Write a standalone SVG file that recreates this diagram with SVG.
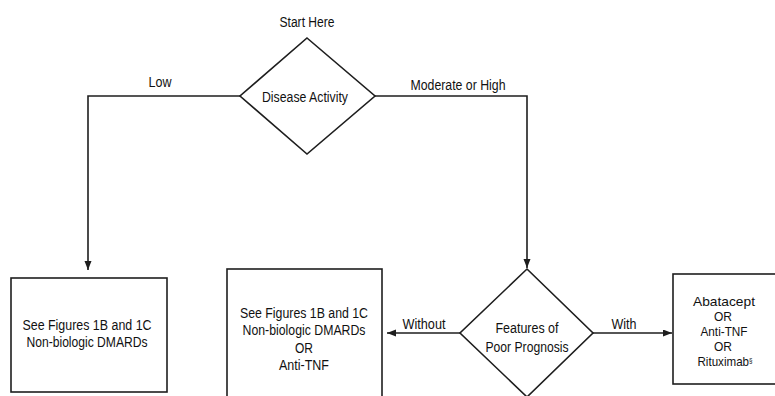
<svg xmlns="http://www.w3.org/2000/svg" width="775" height="396" viewBox="0 0 775 396">
  <style>
    .shape { fill: #ffffff; stroke: #1e1e1e; stroke-width: 1.6; }
    .link { fill: none; stroke: #1e1e1e; stroke-width: 1.6; }
    text { font-family: "Liberation Sans", Arial, sans-serif; font-size: 14px; fill: #111111; text-anchor: middle; }
    .tight { font-size: 13px; }
  </style>
  <defs>
    <marker id="arrow" markerUnits="userSpaceOnUse" markerWidth="10" markerHeight="8" refX="9" refY="3.5" orient="auto">
      <path d="M0,0 L9,3.5 L0,7 Z" fill="#1e1e1e"/>
    </marker>
  </defs>
  <rect width="775" height="396" fill="#ffffff"/>

  <g id="connectors">
    <polyline class="link" points="240,96 88,96 88,270" marker-end="url(#arrow)"/>
    <polyline class="link" points="375,96 527,96 527,268" marker-end="url(#arrow)"/>
    <line class="link" x1="460" y1="333" x2="387" y2="333" marker-end="url(#arrow)"/>
    <line class="link" x1="593" y1="333" x2="672" y2="333" marker-end="url(#arrow)"/>
    <text x="307" y="27" textLength="55" lengthAdjust="spacingAndGlyphs">Start Here</text>
    <text x="160" y="87" textLength="23" lengthAdjust="spacingAndGlyphs">Low</text>
    <text x="458" y="90" textLength="95" lengthAdjust="spacingAndGlyphs">Moderate or High</text>
    <text x="424" y="329" textLength="43" lengthAdjust="spacingAndGlyphs">Without</text>
    <text x="624" y="329" textLength="25" lengthAdjust="spacingAndGlyphs">With</text>
  </g>

  <g id="disease-activity">
    <polygon class="shape" points="307,38 375,96 307,154 240,96"/>
    <text x="305" y="102" textLength="86" lengthAdjust="spacingAndGlyphs">Disease Activity</text>
  </g>

  <g id="low-activity-therapy">
    <rect class="shape" x="11" y="278" width="156" height="114"/>
    <text x="87" y="330" textLength="129" lengthAdjust="spacingAndGlyphs">See Figures 1B and 1C</text>
    <text x="87" y="347" textLength="121" lengthAdjust="spacingAndGlyphs">Non-biologic DMARDs</text>
  </g>

  <g id="without-poor-prognosis-therapy">
    <rect class="shape" x="227" y="269" width="155" height="140"/>
    <text x="304" y="318" textLength="128" lengthAdjust="spacingAndGlyphs">See Figures 1B and 1C</text>
    <text x="304" y="335" textLength="123" lengthAdjust="spacingAndGlyphs">Non-biologic DMARDs</text>
    <text x="304" y="353" textLength="18" lengthAdjust="spacingAndGlyphs">OR</text>
    <text x="304" y="370" textLength="50" lengthAdjust="spacingAndGlyphs">Anti-TNF</text>
  </g>

  <g id="poor-prognosis">
    <polygon class="shape" points="527,269 593,333 527,397 460,333"/>
    <text x="527" y="333" textLength="63" lengthAdjust="spacingAndGlyphs">Features of</text>
    <text x="527" y="352" textLength="83" lengthAdjust="spacingAndGlyphs">Poor Prognosis</text>
  </g>

  <g id="with-poor-prognosis-therapy">
    <rect class="shape" x="673" y="274" width="106" height="110"/>
    <text class="tight" x="724" y="306" textLength="62" lengthAdjust="spacingAndGlyphs">Abatacept</text>
    <text class="tight" x="723" y="321" textLength="18" lengthAdjust="spacingAndGlyphs">OR</text>
    <text class="tight" x="724" y="336" textLength="47" lengthAdjust="spacingAndGlyphs">Anti-TNF</text>
    <text class="tight" x="723" y="351" textLength="18" lengthAdjust="spacingAndGlyphs">OR</text>
    <text class="tight" x="725" y="366" textLength="55" lengthAdjust="spacingAndGlyphs">Rituximab<tspan font-size="7" dy="-3.5">§</tspan></text>
  </g>
</svg>
